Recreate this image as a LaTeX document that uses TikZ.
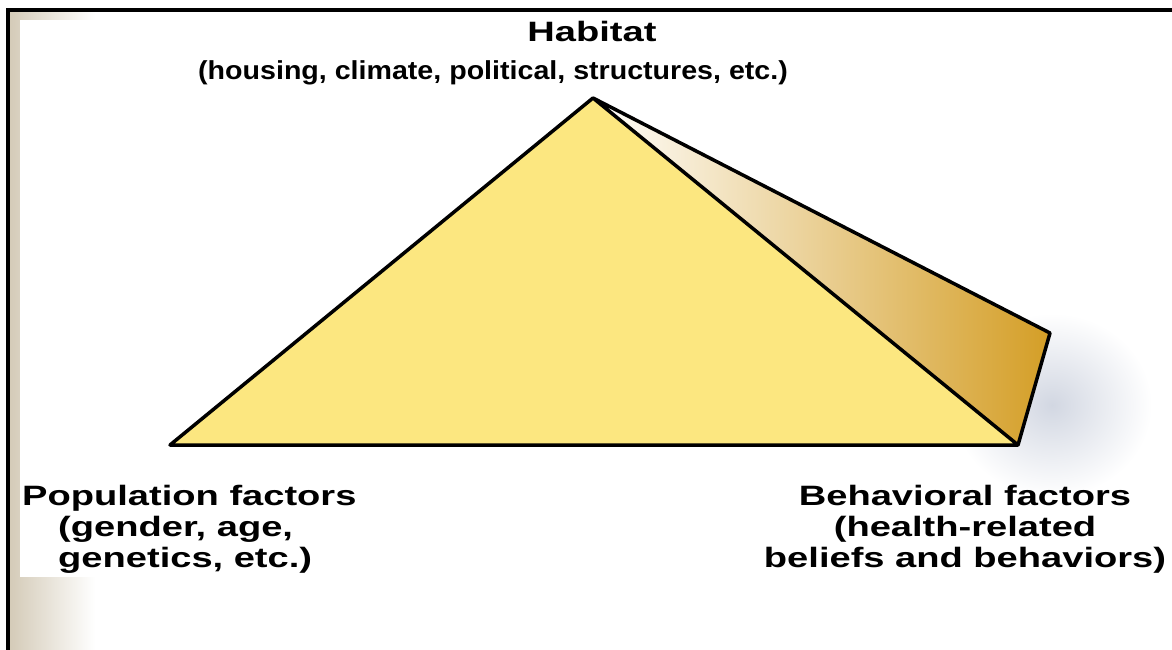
\documentclass[tikz,border=0pt]{standalone}
\usepackage{fontspec}
\setmainfont{Liberation Sans}
\newfontfamily\widefont[FakeStretch=1.36]{Liberation Sans}
\newfontfamily\topfont[FakeStretch=1.1]{Liberation Sans}
\usetikzlibrary{fadings}
\definecolor{beige}{RGB}{212,203,184}
\definecolor{faceyellow}{RGB}{252,231,128}
\definecolor{sidegold}{RGB}{212,158,38}
\definecolor{sidemid}{RGB}{232,192,105}
\definecolor{shadowcol}{RGB}{210,215,226}
\begin{document}
\begin{tikzpicture}[x=1pt,y=-1pt,
  edge/.style={line width=3.5pt, line join=round, line cap=round, black},
  biglabel/.style={font=\widefont\bfseries\fontsize{28}{31}\selectfont, align=center, inner sep=0pt},
  toplabel/.style={font=\topfont\bfseries\fontsize{26}{30}\selectfont, align=center, inner sep=0pt}]
\useasboundingbox (0,0) rectangle (1172,650);
\fill[white] (0,0) rectangle (1172,650);
\shade[left color=beige, right color=white] (10,10) rectangle (95,650);
\fill[white] (20,20) rectangle (1172,577);
\draw[line width=4pt] (8,650) -- (8,10) -- (1172,10);
% soft shadow
\shade[inner color=shadowcol, outer color=white] (1052,405) ellipse [x radius=100, y radius=92];
% pyramid
\coordinate (A) at (593,98);
\coordinate (L) at (170,445);
\coordinate (R) at (1018,445);
\coordinate (B) at (1050,333);
\fill[faceyellow] (A) -- (L) -- (R) -- cycle;
\shade[left color=white, middle color=sidemid, right color=sidegold] (A) -- (R) -- (B) -- cycle;
\draw[edge] (A) -- (L) -- (R) -- (B) -- (A) -- (R);
% labels
\node[biglabel] (hab) at (592,31) {Habitat};
\node[toplabel] (habsub) at (493,73) {(housing, climate, political, structures, etc.)};
\node[biglabel, align=left, anchor=north west] (pop) at (22,485) {Population factors\\\hspace*{36pt}(gender, age,\\\hspace*{36pt}genetics, etc.)};
\node[biglabel] (beh) at (965,529) {Behavioral factors\\(health-related\\beliefs and behaviors)};
\end{tikzpicture}
\end{document}
